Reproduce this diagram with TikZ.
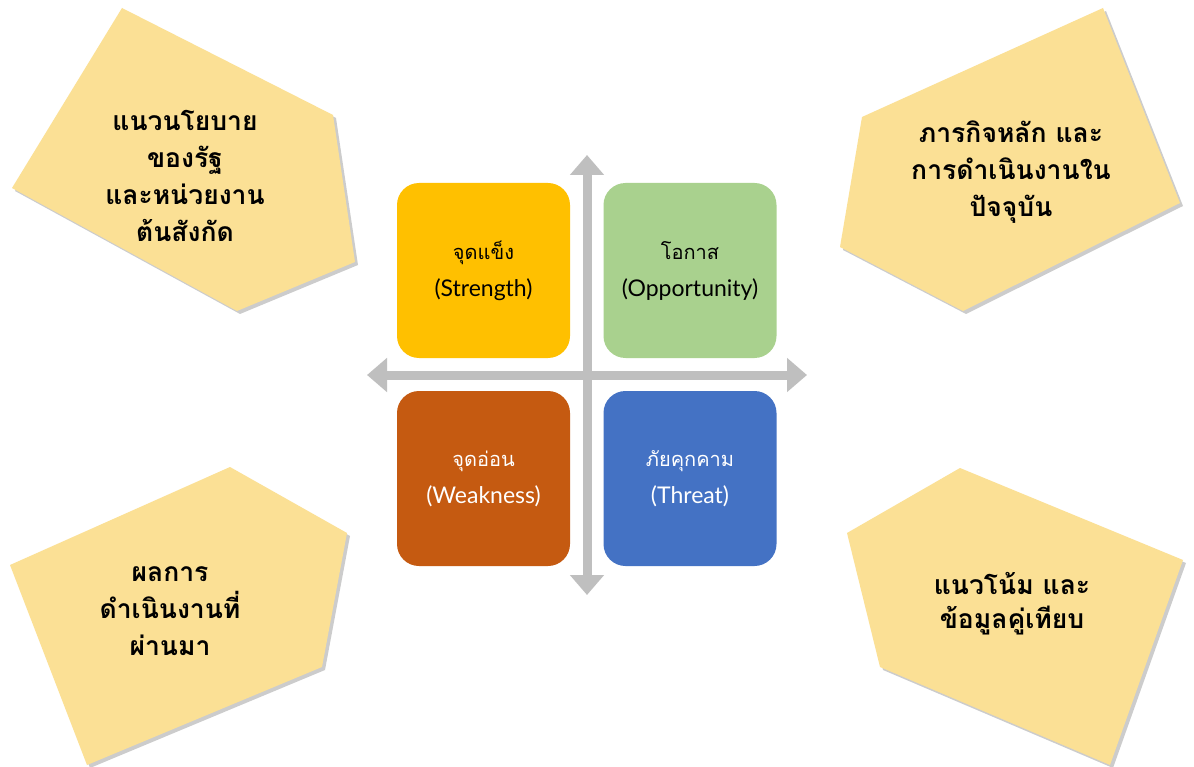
\documentclass[tikz,border=0pt]{standalone}
\usepackage{fontspec}
\setmainfont{Lato}
\newfontfamily\thaifont[Script=Thai]{Loma}
\usetikzlibrary{arrows.meta,shadows}
\definecolor{pentfill}{HTML}{FBE095}
\definecolor{sgold}{HTML}{FFC000}
\definecolor{ogreen}{HTML}{A9D18E}
\definecolor{worange}{HTML}{C55A11}
\definecolor{tblue}{HTML}{4472C4}
\definecolor{axisgray}{HTML}{BFBFBF}
\tikzset{
  pent/.style={fill=pentfill, drop shadow={opacity=0.2, shadow xshift=3pt, shadow yshift=-3pt, fill=black}},
  penttext/.style={align=center, text=black, font=\thaifont\bfseries\fontsize{26.5}{37}\selectfont},
  quad/.style={rounded corners=22pt, minimum width=173pt, minimum height=175pt, align=center, inner sep=0pt, font=\fontsize{20}{37}\selectfont},
  engl/.style={font=\fontsize{23}{37}\selectfont},
  axis/.style={draw=axisgray, line width=9pt, {Triangle[width=33pt,length=20pt]}-{Triangle[width=33pt,length=20pt]}}
}
\begin{document}
\begin{tikzpicture}[x=1pt,y=-1pt]
\useasboundingbox (0,0) rectangle (1194,767);
\fill[white] (0,0) rectangle (1194,767);

% top-left pentagon
\coordinate (a1) at (122,8);
\coordinate (a2) at (333,115);
\coordinate (a3) at (355,262);
\coordinate (a4) at (237,311);
\coordinate (a5) at (12,188);
\path[pent] (a1) -- (a2) -- (a3) -- (a4) -- (a5) -- cycle;
\node[penttext] (ta) at (185,176) {แนวนโยบาย\\ของรัฐ\\และหน่วยงาน\\ต้นสังกัด};

% top-right pentagon
\coordinate (b1) at (1103,8);
\coordinate (b2) at (1180,203);
\coordinate (b3) at (963,311);
\coordinate (b4) at (840,247);
\coordinate (b5) at (862,117);
\path[pent] (b1) -- (b2) -- (b3) -- (b4) -- (b5) -- cycle;
\node[penttext] (tb) at (1011,172) {ภารกิจหลัก และ\\การดำเนินงานใน\\ปัจจุบัน};

% bottom-left pentagon
\coordinate (c1) at (230,467);
\coordinate (c2) at (347,533);
\coordinate (c3) at (322,667);
\coordinate (c4) at (87,765);
\coordinate (c5) at (10,565);
\path[pent] (c1) -- (c2) -- (c3) -- (c4) -- (c5) -- cycle;
\node[penttext] (tc) at (170,611) {ผลการ\\ดำเนินงานที่\\ผ่านมา};

% bottom-right pentagon
\coordinate (d1) at (960,468);
\coordinate (d2) at (1183,560);
\coordinate (d3) at (1110,765);
\coordinate (d4) at (880,667);
\coordinate (d5) at (847,533);
\path[pent] (d1) -- (d2) -- (d3) -- (d4) -- (d5) -- cycle;
\node[penttext, font=\thaifont\bfseries\fontsize{26.5}{34}\selectfont] (td) at (1012,604) {แนวโน้ม และ\\ข้อมูลคู่เทียบ};

% axes
\coordinate (vt) at (587,155);
\coordinate (vb) at (587,595);
\coordinate (hl) at (367,375);
\coordinate (hr) at (807,375);
\draw[axis] (vt) -- (vb);
\draw[axis] (hl) -- (hr);

% quadrant boxes
\node[quad, fill=sgold, text=black] (S) at (483.5,270.5) {{\thaifont จุดแข็ง}\\{\fontsize{23}{37}\selectfont (Strength)}};
\node[quad, fill=ogreen, text=black] (O) at (690,270.5) {{\thaifont โอกาส}\\{\fontsize{23}{37}\selectfont (Opportunity)}};
\node[quad, fill=worange, text=white] (W) at (483.5,478.5) {{\thaifont จุดอ่อน}\\{\fontsize{23}{37}\selectfont (Weakness)}};
\node[quad, fill=tblue, text=white] (T) at (690,478.5) {{\thaifont ภัยคุกคาม}\\{\fontsize{23}{37}\selectfont (Threat)}};
\end{tikzpicture}
\end{document}
